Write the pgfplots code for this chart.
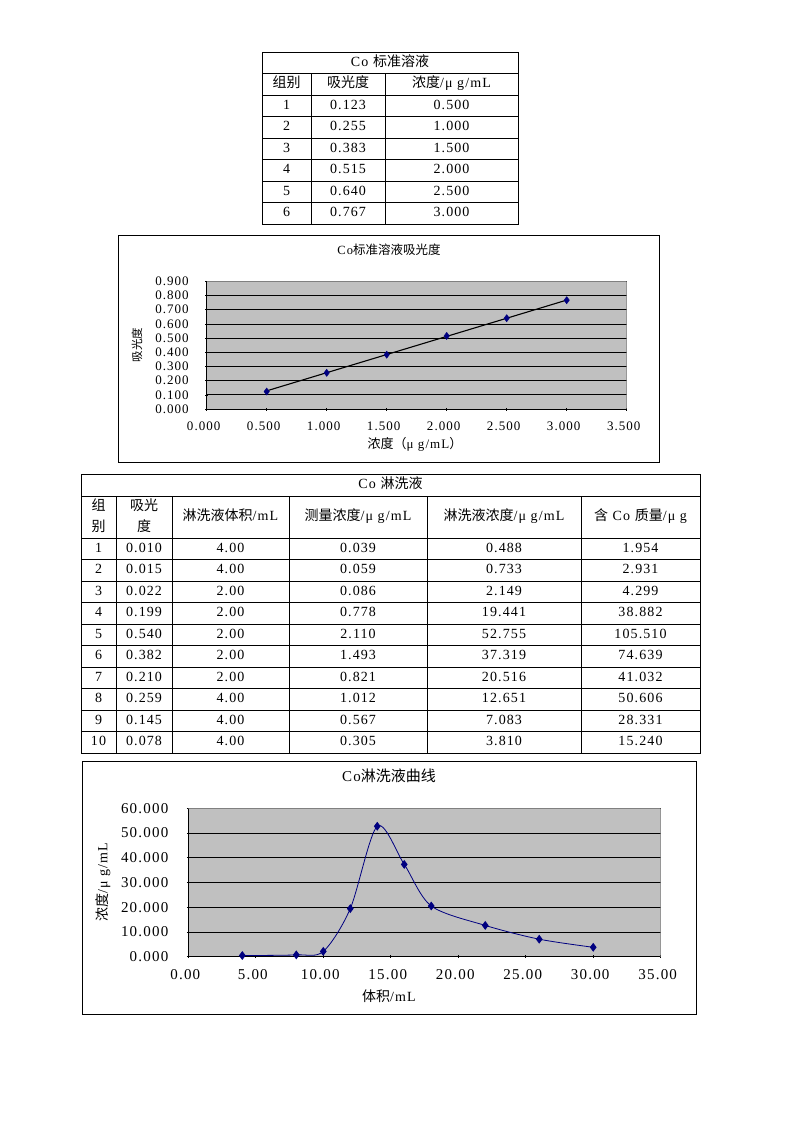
\documentclass[border=0pt]{standalone}
\usepackage{pgfplots}
\pgfplotsset{compat=1.18}
\usepackage{fontspec}
\setmainfont{Liberation Serif}[LetterSpace=8]
\newfontfamily\cjk{Noto Sans CJK SC}
\definecolor{xlgray}{HTML}{C0C0C0}
\definecolor{xnavy}{HTML}{000080}
\definecolor{xborder}{HTML}{808080}
\newcommand\fs[1]{\fontsize{#1}{#1}\selectfont}
\tikzset{tc/.style={text height=10pt,text depth=3pt,inner sep=0pt,font=\fs{14}}}

\begin{document}
\begin{tikzpicture}
\fill[white] (0,0) rectangle (793pt,-1122pt);
\path[use as bounding box] (0,0) rectangle (793pt,-1122pt);
\begin{scope}[x=1pt,y=-1pt,line width=0.8pt]
% ---------- Table 1 ----------
\draw (262,52) rectangle (518,224);
\foreach \y in {73.5,95,116.5,138,159.5,181,202.5} \draw (262,\y)--(518,\y);
\draw (311,73.5)--(311,224) (385,73.5)--(385,224);
\node[tc] at (390,62.75) {Co {\cjk 标准溶液}};
\node[tc] at (286.5,84.25) {\cjk 组别};
\node[tc] at (348,84.25) {\cjk 吸光度};
\node[tc] at (451.5,84.25) {{\cjk 浓度}/μ g/mL};
\foreach \i/\a/\c [count=\n] in {1/0.123/0.500,2/0.255/1.000,3/0.383/1.500,4/0.515/2.000,5/0.640/2.500,6/0.767/3.000}{
  \node[tc] at (286.5,{84.25+21.5*\n}) {\i};
  \node[tc] at (348,{84.25+21.5*\n}) {\a};
  \node[tc] at (451.5,{84.25+21.5*\n}) {\c};
}
% ---------- Chart 1 frame and labels ----------
\draw[line width=1pt] (118.5,235.5) rectangle (659.5,462.5);
\node[font=\fs{12.5}] at (389,250) {Co{\cjk 标准溶液吸光度}};
\node[font=\fs{11.5},rotate=90] at (137,345) {\cjk 吸光度};
\node[font=\fs{13}] at (415,444) {{\cjk 浓度（}μ g/mL{\cjk ）}};
\node[anchor=west,font=\fs{13}] at (519,340) {y\hspace{6pt}=\hspace{6pt}0.2559x};
\node[anchor=west,font=\fs{13}] at (519,357) {R\textsuperscript{2}\hspace{6pt}=\hspace{6pt}0.9999};
% ---------- Table 2 ----------
\draw (81,474) rectangle (700,753);
\draw (81,496)--(700,496) (81,538)--(700,538);
\foreach \k in {1,...,9} \draw (81,{538+21.5*\k})--(700,{538+21.5*\k});
\foreach \x in {116,172,289,427,581} \draw (\x,496)--(\x,753);
\node[tc] at (390.5,485) {Co {\cjk 淋洗液}};
\node[tc] at (98.5,507) {\cjk 组};
\node[tc] at (98.5,528) {\cjk 别};
\node[tc] at (144,507) {\cjk 吸光};
\node[tc] at (144,528) {\cjk 度};
\node[tc] at (230.5,517) {{\cjk 淋洗液体积}/mL};
\node[tc] at (358,517) {{\cjk 测量浓度}/μ g/mL};
\node[tc] at (504,517) {{\cjk 淋洗液浓度}/μ g/mL};
\node[tc] at (640.5,517) {{\cjk 含} Co {\cjk 质量}/μ g};
\foreach \i/\a/\v/\m/\c/\q [count=\n] in {
 1/0.010/4.00/0.039/0.488/1.954,
 2/0.015/4.00/0.059/0.733/2.931,
 3/0.022/2.00/0.086/2.149/4.299,
 4/0.199/2.00/0.778/19.441/38.882,
 5/0.540/2.00/2.110/52.755/105.510,
 6/0.382/2.00/1.493/37.319/74.639,
 7/0.210/2.00/0.821/20.516/41.032,
 8/0.259/4.00/1.012/12.651/50.606,
 9/0.145/4.00/0.567/7.083/28.331,
 10/0.078/4.00/0.305/3.810/15.240}{
  \node[tc] at (98.5,{527.25+21.5*\n}) {\i};
  \node[tc] at (144,{527.25+21.5*\n}) {\a};
  \node[tc] at (230.5,{527.25+21.5*\n}) {\v};
  \node[tc] at (358,{527.25+21.5*\n}) {\m};
  \node[tc] at (504,{527.25+21.5*\n}) {\c};
  \node[tc] at (640.5,{527.25+21.5*\n}) {\q};
}
% ---------- Chart 2 frame and labels ----------
\draw[line width=1pt] (82.3,761) rectangle (696,1014);
\node[font=\fs{15}] at (389,776) {Co{\cjk 淋洗液曲线}};
\node[font=\fs{14},rotate=90] at (103,882) {{\cjk 浓度}/μ g/mL};
\node[font=\fs{14}] at (389,996) {{\cjk 体积}/mL};
\end{scope}

% ---------- Chart 1 axis ----------
\begin{axis}[
  at={(206.7pt,-409pt)}, anchor=south west, scale only axis,
  width=420pt, height=127.7pt,
  xmin=0, xmax=3.5, ymin=0, ymax=0.9,
  xtick={0,0.5,1,1.5,2,2.5,3,3.5},
  ytick={0,0.1,0.2,0.3,0.4,0.5,0.6,0.7,0.8,0.9},
  axis lines=left, axis line style={-,line width=0.8pt,black},
  axis background/.style={fill=xlgray},
  ymajorgrids, grid style={black,line width=0.7pt},
  tick style={black,line width=0.6pt}, major tick length=3pt,
  /pgf/number format/assume math mode=true,
  /pgf/number format/fixed, /pgf/number format/fixed zerofill,
  /pgf/number format/precision=3,
  tick label style={font=\fs{13}},
  xticklabel style={xshift=-3pt,yshift=-8pt},
  yticklabel style={xshift=-13pt},
]
\addplot[black, line width=1.1pt] coordinates {(0.5,0.12795) (3.0,0.7677)};
\addplot[only marks, mark=diamond*, mark size=3.6pt, color=xnavy] coordinates {(0.5,0.123)(1.0,0.255)(1.5,0.383)(2.0,0.515)(2.5,0.640)(3.0,0.767)};
\draw[xborder, line width=0.8pt] (rel axis cs:0,1) -- (rel axis cs:1,1) -- (rel axis cs:1,0);
\end{axis}

% ---------- Chart 2 axis ----------
\begin{axis}[
  at={(188.3pt,-956.7pt)}, anchor=south west, scale only axis,
  width=472.4pt, height=148.4pt,
  xmin=0, xmax=35, ymin=0, ymax=60,
  xtick={0,5,10,15,20,25,30,35},
  ytick={0,10,20,30,40,50,60},
  axis lines=left, axis line style={-,line width=0.8pt,black},
  axis background/.style={fill=xlgray},
  ymajorgrids, grid style={black,line width=0.7pt},
  tick style={black,line width=0.6pt}, major tick length=3pt,
  /pgf/number format/assume math mode=true,
  /pgf/number format/fixed, /pgf/number format/fixed zerofill,
  tick label style={font=\fs{15}},
  xticklabel style={/pgf/number format/precision=2, xshift=-3pt, yshift=-8pt},
  yticklabel style={/pgf/number format/precision=3, xshift=-15pt},
]
\addplot[xnavy, line width=0.8pt, smooth, mark=diamond*, mark size=3.8pt, mark options={fill=xnavy}] coordinates {(4,0.488)(8,0.733)(10,2.149)(12,19.441)(14,52.755)(16,37.319)(18,20.516)(22,12.651)(26,7.083)(30,3.810)};
\draw[xborder, line width=0.8pt] (rel axis cs:0,1) -- (rel axis cs:1,1) -- (rel axis cs:1,0);
\end{axis}
\end{tikzpicture}
\end{document}
